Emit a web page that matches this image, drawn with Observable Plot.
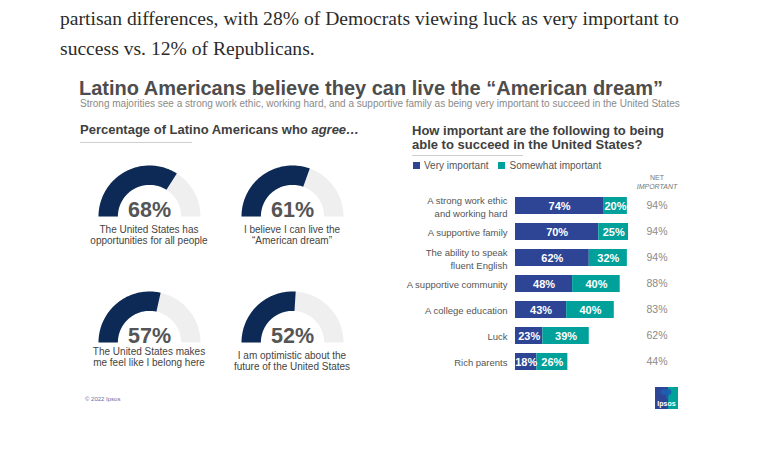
<!DOCTYPE html>
<html>
<head>
<meta charset="utf-8">
<script src="https://cdn.jsdelivr.net/npm/d3@7"></script>
<script src="https://cdn.jsdelivr.net/npm/@observablehq/plot@0.6"></script>
<style>
  body { margin: 0; background: #fff; }
  #page { position: relative; width: 758px; height: 464px; overflow: hidden; font-family: "Liberation Sans", Arial, sans-serif; }
  .abs { position: absolute; white-space: nowrap; }
  .article { left: 60px; top: 3.5px; font-family: "Liberation Serif", "DejaVu Serif", serif; font-size: 19.6px; line-height: 30px; color: #2b2b2b; }
  .title { left: 79px; top: 79px; font-size: 20px; line-height: 18px; font-weight: bold; color: #4d4d4d; }
  .subtitle { left: 80px; top: 98.5px; font-size: 10px; line-height: 10px; color: #8a8a8a; }
  .heading { font-size: 13px; line-height: 14.5px; font-weight: bold; color: #404040; }
  .rule { position: absolute; height: 1px; background: #cfcfcf; }
  .legend { left: 413px; top: 160px; font-size: 10px; line-height: 12px; color: #555; }
  .legend .sw { display: inline-block; width: 7px; height: 7px; margin-right: 4px; vertical-align: 0px; }
  .net { left: 627px; width: 60px; top: 172.6px; font-size: 7px; line-height: 9px; color: #777; text-align: center; }
  .cap { width: 160px; font-size: 10px; line-height: 11px; color: #444; text-align: center; white-space: pre; }
  .gauge { position: absolute; }
  .copy { left: 85px; top: 395px; font-size: 6px; line-height: 8px; color: #6b6ba3; }
</style>
</head>
<body>
<div id="page">
  <div class="abs article">partisan differences, with 28% of Democrats viewing luck as very important to<br>success vs. 12% of Republicans.</div>
  <div class="abs title">Latino Americans believe they can live the “American dream”</div>
  <div class="abs subtitle">Strong majorities see a strong work ethic, working hard, and a supportive family as being very important to succeed in the United States</div>
  <div class="abs heading" style="left:80px;top:122.5px;">Percentage of Latino Americans who <i>agree…</i></div>
  <div class="rule" style="left:80px;top:142px;width:112px;"></div>
  <div class="abs heading" style="left:412px;top:123.75px;">How important are the following to being<br>able to succeed in the United States?</div>
  <div class="rule" style="left:412px;top:155px;width:111px;"></div>
  <div class="abs legend" id="legend"></div>
  <div class="abs net">NET<br><i>IMPORTANT</i></div>
  <div id="gauges"></div>
  <div class="abs" id="bars" style="left:390px;top:180px;"></div>
  <div class="abs copy">© 2022 Ipsos</div>
  <svg class="abs" style="left:655px;top:387px;" width="23" height="22" viewBox="0 0 23 22">
    <rect x="0" y="0" width="23" height="22" fill="#2e4595"/>
    <rect x="13" y="0" width="10" height="22" fill="#00a19b"/>
    <path d="M8.5 2 h5 a3 3 0 0 1 0 6 v4 h-2.5 v-4 h-2.5 a3 3 0 0 1 0 -6z" fill="#1d5fb0" opacity="0.9"/>
    <text x="11.5" y="19" text-anchor="middle" font-family="Liberation Sans, Arial, sans-serif" font-size="7" font-weight="bold" fill="#fff">Ipsos</text>
  </svg>
</div>
<script>
// ---- Data ----
const gaugeValues = [68, 61, 57, 52];
const gaugeLabels = [
  "The United States has\nopportunities for all people",
  "I believe I can live the\n“American dream”",
  "The United States makes\nme feel like I belong here",
  "I am optimistic about the\nfuture of the United States"
];
const categories = [
  "A strong work ethic\nand working hard",
  "A supportive family",
  "The ability to speak\nfluent English",
  "A supportive community",
  "A college education",
  "Luck",
  "Rich parents"
];
const veryImportant = [74, 70, 62, 48, 43, 23, 18];
const somewhatImportant = [20, 25, 32, 40, 40, 39, 26];
const netImportant = [94, 94, 94, 88, 83, 62, 44];
const seriesNames = ["Very important", "Somewhat important"];
const seriesColors = ["#2e4595", "#00a19b"];

// ---- Legend ----
document.getElementById("legend").innerHTML = seriesNames
  .map((n, i) => `<span class="sw" style="background:${seriesColors[i]}"></span>${n}`)
  .join('<span style="display:inline-block;width:10px"></span>');

// ---- Gauges ----
function ring(f0, f1, rIn, rOut, n = 80) {
  const pts = [];
  for (let i = 0; i <= n; i++) {
    const a = Math.PI * (1 - (f0 + (f1 - f0) * i / n));
    pts.push({x: rOut * Math.cos(a), y: rOut * Math.sin(a)});
  }
  for (let i = n; i >= 0; i--) {
    const a = Math.PI * (1 - (f0 + (f1 - f0) * i / n));
    pts.push({x: rIn * Math.cos(a), y: rIn * Math.sin(a)});
  }
  return pts;
}
const layout = [
  {cx: 149, bottom: 216, capTop: 223.5},
  {cx: 292, bottom: 216, capTop: 223.5},
  {cx: 149, bottom: 342, capTop: 345.5},
  {cx: 292, bottom: 342, capTop: 349.5}
];
const gWrap = document.getElementById("gauges");
const R_IN = 0.62;
gaugeValues.forEach((v, i) => {
  const L = layout[i];
  const chart = Plot.plot({
    width: 110, height: 53,
    marginLeft: 4, marginRight: 4, marginTop: 1, marginBottom: 1,
    x: {domain: [-1, 1], axis: null},
    y: {domain: [0, 1], axis: null},
    style: {background: "transparent", overflow: "visible"},
    marks: [
      Plot.line(ring(0, 1, R_IN, 1), {x: "x", y: "y", fill: "#efefef", stroke: "none"}),
      Plot.line(ring(0, v / 100, R_IN, 1), {x: "x", y: "y", fill: "#0d2a56", stroke: "none"}),
      Plot.text([v], {frameAnchor: "bottom", lineAnchor: "bottom", dy: 0, text: d => d + "%",
        fontSize: 21.5, fontWeight: "bold", fill: "#555", fontFamily: "Liberation Sans, Arial, sans-serif"})
    ]
  });
  chart.classList.add("gauge");
  chart.style.left = (L.cx - 55) + "px";
  chart.style.top = (L.bottom - 52) + "px";
  gWrap.appendChild(chart);
  const cap = document.createElement("div");
  cap.className = "abs cap";
  cap.style.left = (L.cx - 80) + "px";
  cap.style.top = L.capTop + "px";
  cap.textContent = gaugeLabels[i];
  gWrap.appendChild(cap);
});

// ---- Bars ----
const rows = categories.map((c, i) => ({
  cat: c, very: veryImportant[i], some: somewhatImportant[i], net: netImportant[i]
}));
const bars = Plot.plot({
  width: 300, height: 205,
  marginLeft: 125, marginRight: 23, marginTop: 5, marginBottom: 4,
  x: {domain: [0, 100], range: [125, 244], axis: null},
  y: {domain: categories, range: [5, 201], padding: 0.3625, axis: null},
  style: {background: "transparent", fontFamily: "Liberation Sans, Arial, sans-serif", overflow: "visible"},
  marks: [
    Plot.barX(rows, {y: "cat", x1: 0, x2: "very", fill: seriesColors[0]}),
    Plot.barX(rows, {y: "cat", x1: "very", x2: d => d.very + d.some, fill: seriesColors[1]}),
    Plot.text(rows, {y: "cat", x: d => d.very / 2, text: d => d.very + "%", fill: "white", fontWeight: "bold", fontSize: 11}),
    Plot.text(rows, {y: "cat", x: d => d.very + d.some / 2, text: d => d.some + "%", fill: "white", fontWeight: "bold", fontSize: 11}),
    Plot.text(rows, {y: "cat", x: 0, dx: -8, text: "cat", textAnchor: "end", fontSize: 9.5, fill: "#555", lineHeight: 1.37}),
    Plot.text(rows, {y: "cat", frameAnchor: "right", textAnchor: "end", text: d => d.net + "%", fontSize: 10.5, fill: "#8a8a8a"})
  ]
});
document.getElementById("bars").appendChild(bars);
</script>
</body>
</html>
